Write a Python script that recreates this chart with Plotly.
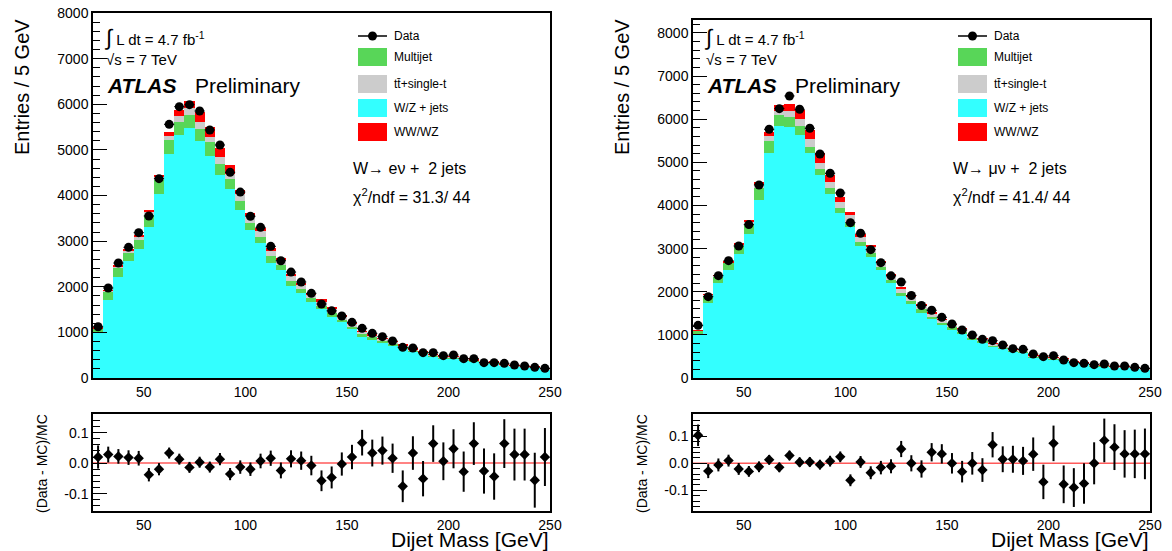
import plotly.graph_objects as go

# ---------------- data ----------------
mass = [27.5, 32.5, 37.5, 42.5, 47.5, 52.5, 57.5, 62.5, 67.5, 72.5, 77.5, 82.5, 87.5, 92.5, 97.5,
        102.5, 107.5, 112.5, 117.5, 122.5, 127.5, 132.5, 137.5, 142.5, 147.5, 152.5, 157.5, 162.5,
        167.5, 172.5, 177.5, 182.5, 187.5, 192.5, 197.5, 202.5, 207.5, 212.5, 217.5, 222.5, 227.5,
        232.5, 237.5, 242.5, 247.5]

# electron channel
data_e = [1124, 1973, 2520, 2864, 3185, 3551, 4369, 5560, 5947, 5991, 5852, 5436, 5107, 4508, 4075,
          3545, 3302, 2885, 2571, 2322, 2105, 1856, 1622, 1472, 1359, 1220, 1089, 979, 906, 811,
          672, 658, 555, 555, 489, 504, 424, 424, 336, 336, 321, 285, 263, 234, 212]
wz_e = [990, 1720, 2220, 2560, 2820, 3320, 4040, 4900, 5326, 5487, 5190, 4866, 4440, 4150, 3680,
        3240, 2950, 2520, 2370, 2020, 1855, 1670, 1510, 1345, 1227, 1076, 919, 853, 783, 718,
        654, 573, 527, 470, 437, 433, 392, 358, 310, 316, 272, 249, 230, 223, 187]
multijet_e = [95, 175, 200, 200, 210, 260, 300, 310, 278, 277, 268, 314, 240, 218, 205,
              160, 145, 145, 110, 110, 95, 80, 73, 73, 55, 48, 41, 38, 35, 32,
              29, 25, 23, 21, 19, 19, 17, 16, 14, 14, 12, 11, 10, 10, 8]
top_e = [8, 12, 25, 30, 75, 70, 60, 88, 138, 147, 160, 110, 160, 110, 145,
         147, 130, 125, 110, 125, 100, 87, 100, 100, 68, 60, 51, 47, 44, 40,
         37, 32, 29, 26, 25, 24, 22, 20, 17, 18, 15, 14, 13, 12, 11]
diboson_e = [5, 12, 20, 23, 30, 41, 58, 84, 129, 165, 216, 218, 201, 198, 99,
             70, 54, 50, 44, 35, 38, 34, 39, 27, 13, 12, 10, 10, 8, 8,
             7, 7, 6, 5, 5, 5, 5, 4, 4, 3, 3, 3, 3, 3, 2]
ratio_e = [0.020, 0.028, 0.022, 0.018, 0.016, -0.038, -0.020, 0.033, 0.013, -0.014,
           0.003, -0.013, 0.013, -0.036, -0.013, -0.020, 0.007, 0.016, -0.024, 0.014,
           0.008, -0.008, -0.058, -0.047, -0.003, 0.020, 0.067, 0.033, 0.041, 0.016,
           -0.076, 0.033, -0.051, 0.064, 0.006, 0.047, -0.028, 0.064, -0.026, -0.044,
           0.064, 0.028, 0.028, -0.056, 0.020]
ratio_err_e = [0.038, 0.026, 0.024, 0.024, 0.024, 0.022, 0.020, 0.018, 0.018, 0.018,
               0.018, 0.018, 0.020, 0.020, 0.022, 0.022, 0.024, 0.025, 0.026, 0.028,
               0.030, 0.032, 0.034, 0.036, 0.038, 0.040, 0.042, 0.044, 0.046, 0.048,
               0.052, 0.055, 0.058, 0.060, 0.062, 0.064, 0.066, 0.070, 0.074, 0.076,
               0.080, 0.085, 0.085, 0.090, 0.095]

# muon channel
data_mu = [1221, 1886, 2372, 2720, 3061, 3556, 4475, 5766, 6245, 6539, 6230, 5790, 5194, 4746, 4290,
           3602, 3355, 2976, 2674, 2368, 2226, 1913, 1680, 1570, 1407, 1252, 1113, 997, 897, 866,
           765, 680, 665, 556, 495, 518, 417, 356, 340, 309, 325, 278, 278, 247, 224]
wz_mu = [990, 1750, 2210, 2505, 2876, 3339, 4128, 5226, 5844, 5828, 5640, 5210, 4707, 4267, 3819,
         3509, 3061, 2814, 2505, 2195, 1902, 1720, 1515, 1360, 1223, 1127, 1034, 897, 828, 729,
         679, 603, 593, 484, 479, 434, 407, 352, 331, 278, 270, 236, 242, 215, 194]
multijet_mu = [100, 160, 140, 165, 185, 210, 270, 278, 255, 217, 200, 155, 132, 131, 116,
               93, 101, 77, 77, 75, 77, 70, 75, 55, 48, 44, 40, 35, 32, 28,
               26, 23, 23, 19, 19, 17, 16, 14, 13, 11, 10, 9, 9, 8, 8]
top_mu = [10, 18, 20, 14, 40, 75, 80, 105, 100, 154, 155, 170, 154, 155, 154,
          178, 115, 139, 100, 95, 100, 95, 100, 75, 75, 69, 63, 55, 51, 45,
          41, 37, 36, 30, 29, 26, 25, 21, 20, 17, 17, 14, 15, 13, 12]
diboson_mu = [6, 14, 16, 9, 26, 42, 56, 83, 141, 156, 210, 226, 227, 155, 100,
              64, 61, 54, 35, 29, 35, 28, 26, 18, 13, 12, 12, 10, 9, 8,
              8, 7, 7, 5, 5, 5, 4, 4, 4, 3, 3, 3, 3, 3, 2]
ratio_mu = [0.104, -0.029, -0.006, 0.010, -0.021, -0.030, -0.013, 0.013, -0.015, 0.029,
            0.004, 0.005, -0.005, 0.008, 0.024, -0.063, 0.005, -0.035, -0.016, -0.011,
            0.053, 0.000, -0.021, 0.041, 0.035, 0.000, -0.031, 0.000, -0.025, 0.069,
            0.015, 0.015, 0.009, 0.034, -0.069, 0.074, -0.078, -0.090, -0.075, 0.000,
            0.085, 0.060, 0.035, 0.035, 0.035]
ratio_err_mu = [0.040, 0.026, 0.024, 0.022, 0.022, 0.020, 0.020, 0.018, 0.018, 0.018,
                0.018, 0.018, 0.018, 0.020, 0.020, 0.022, 0.022, 0.024, 0.025, 0.026,
                0.030, 0.030, 0.032, 0.034, 0.036, 0.038, 0.040, 0.042, 0.044, 0.047,
                0.048, 0.050, 0.052, 0.062, 0.064, 0.066, 0.070, 0.072, 0.075, 0.078,
                0.081, 0.085, 0.088, 0.090, 0.094]

channel_labels = ["W\u2192 e\u03bd +  2 jets", "W\u2192 \u03bc\u03bd +  2 jets"]
chi2_labels = ["\u03c7<sup>2</sup>/ndf = 31.3/ 44", "\u03c7<sup>2</sup>/ndf = 41.4/ 44"]
legend_names = ["Data", "Multijet", "tt\u0304+single-t", "W/Z + jets", "WW/WZ"]
ytick_ratio_vals = [-0.1, 0.0, 0.1]
ytick_ratio_text = ["-0.1", "0.0", "0.1"]
xtick_vals = [50, 100, 150, 200, 250]

# ---------------- style ----------------
W, H = 1172, 551
FONT = "Liberation Sans, Arial, Helvetica, sans-serif"
C_WZ = "#33FFFF"
C_MJ = "#58D658"
C_TOP = "#CCCCCC"
C_VV = "#FF0000"


def px(x):
    return x / W


def py(y):
    return 1 - y / H


fig = go.Figure()

panels = [
    dict(xa="x", ya="y", xr="x2", yr="y2", data=data_e, wz=wz_e, mj=multijet_e, top=top_e,
         vv=diboson_e, ratio=ratio_e, err=ratio_err_e, off=0),
    dict(xa="x3", ya="y3", xr="x4", yr="y4", data=data_mu, wz=wz_mu, mj=multijet_mu, top=top_mu,
         vv=diboson_mu, ratio=ratio_mu, err=ratio_err_mu, off=600),
]

for p in panels:
    for vals, col in [(p["wz"], C_WZ), (p["mj"], C_MJ), (p["top"], C_TOP), (p["vv"], C_VV)]:
        fig.add_trace(go.Bar(x=mass, y=vals, width=5, marker=dict(color=col, line=dict(width=0)),
                             xaxis=p["xa"], yaxis=p["ya"], showlegend=False, hoverinfo="skip"))
    fig.add_trace(go.Scatter(x=mass, y=p["data"], mode="markers", xaxis=p["xa"], yaxis=p["ya"],
                             marker=dict(symbol="circle", size=9, color="black"),
                             error_x=dict(type="constant", value=2.5, thickness=1, width=0, color="black"),
                             showlegend=False))
    fig.add_trace(go.Scatter(x=[25, 250], y=[0, 0], mode="lines", xaxis=p["xr"], yaxis=p["yr"],
                             line=dict(color="rgba(255,60,60,0.85)", width=1.5), showlegend=False,
                             hoverinfo="skip"))
    fig.add_trace(go.Scatter(x=mass, y=p["ratio"], mode="markers", xaxis=p["xr"], yaxis=p["yr"],
                             marker=dict(symbol="diamond", size=8, color="black"),
                             error_y=dict(type="data", array=p["err"], thickness=2, width=0, color="black"),
                             showlegend=False))

axis_common = dict(showgrid=False, zeroline=False, showline=True, linecolor="black", linewidth=1.5,
                   mirror=True, automargin=False, tickfont=dict(family=FONT, size=14, color="black"))

xdom_l = [px(93), px(550)]
xdom_r = [px(693), px(1150)]
ytop_l = [py(378), py(13)]
ytop_r = [py(378), py(20)]
yrat = [py(511), py(414)]

xtop = dict(axis_common, range=[25, 250], tickvals=xtick_vals, ticks="", layer="below traces")
xrat = dict(axis_common, range=[25, 250], tickvals=xtick_vals, ticks="")
ytop = dict(axis_common, ticks="inside", ticklen=14, tickwidth=1, tickcolor="black", dtick=1000,
            minor=dict(ticks="inside", ticklen=7, dtick=200, tickcolor="black"))
yr = dict(axis_common, ticks="inside", ticklen=14, tickwidth=1, tickcolor="black",
          tickvals=ytick_ratio_vals, ticktext=ytick_ratio_text,
          minor=dict(ticks="inside", ticklen=7, dtick=0.02, tickcolor="black"))

fig.update_layout(
    template="none",
    width=W, height=H, margin=dict(l=0, r=0, t=0, b=0, pad=0, autoexpand=False),
    paper_bgcolor="white", plot_bgcolor="white",
    barmode="stack", bargap=0, showlegend=False,
    font=dict(family=FONT, color="black"),
    xaxis=dict(xtop, domain=xdom_l, anchor="y"),
    yaxis=dict(ytop, domain=ytop_l, anchor="x", range=[0, 8000]),
    xaxis2=dict(xrat, domain=xdom_l, anchor="y2"),
    yaxis2=dict(yr, domain=yrat, anchor="x2", range=[-0.157, 0.161]),
    xaxis3=dict(xtop, domain=xdom_r, anchor="y3"),
    yaxis3=dict(ytop, domain=ytop_r, anchor="x3", range=[0, 8300]),
    xaxis4=dict(xrat, domain=xdom_r, anchor="y4"),
    yaxis4=dict(yr, domain=yrat, anchor="x4", range=[-0.177, 0.183]),
)

ann = []
shapes = []


def text(x, y, s, size, xanchor="left", angle=0, yanchor="middle"):
    ann.append(dict(x=px(x), y=py(y), xref="paper", yref="paper", text=s, showarrow=False,
                    xanchor=xanchor, yanchor=yanchor, textangle=angle,
                    font=dict(family=FONT, size=size, color="black")))


for i, p in enumerate(panels):
    o = p["off"]
    # ATLAS labels
    text(102 + o, 37, "<span style='font-size:22px'>\u222b</span> L dt = 4.7 fb<sup>-1</sup>", 15)
    text(104 + o, 59, "\u221as = 7 TeV", 15)
    text(105 + o, 85, "<b><i>ATLAS</i></b>", 21)
    text(193 + o, 85, "Preliminary", 21)
    # channel & chi2
    text(351 + o, 168, channel_labels[i], 16)
    text(351 + o, 196, chi2_labels[i], 16)
    # legend
    ys = [36, 57, 84, 108, 132]
    cols = [None, C_MJ, C_TOP, C_WZ, C_VV]
    for k, (name, col) in enumerate(zip(legend_names, cols)):
        yc = ys[k]
        if col is None:
            shapes.append(dict(type="line", xref="paper", yref="paper", x0=px(358 + o), x1=px(387 + o),
                               y0=py(yc), y1=py(yc), line=dict(color="black", width=1.5)))
            shapes.append(dict(type="circle", xref="paper", yref="paper", x0=px(368 + o), x1=px(377 + o),
                               y0=py(yc + 4.5), y1=py(yc - 4.5), fillcolor="black",
                               line=dict(color="black", width=0)))
        else:
            shapes.append(dict(type="rect", xref="paper", yref="paper", x0=px(358 + o), x1=px(387 + o),
                               y0=py(yc + 9), y1=py(yc - 9), fillcolor=col, line=dict(width=0)))
        text(392 + o, yc, name, 12)
    # axis titles
    text(22 + o, 87, "Entries / 5 GeV", 20, xanchor="center", angle=-90)
    text(42 + o, 464, "(Data - MC)/MC", 14, xanchor="center", angle=-90)
    text(551 + o, 539, "Dijet Mass [GeV]", 21, xanchor="right")

fig.update_layout(annotations=ann, shapes=shapes)

# remove the default 8px page margin so the 1172x551 figure fills the window exactly
fig.write_html("out.html",
               config={"displayModeBar": False},
               post_script="document.body.style.margin='0px';document.body.style.overflow='hidden';")
